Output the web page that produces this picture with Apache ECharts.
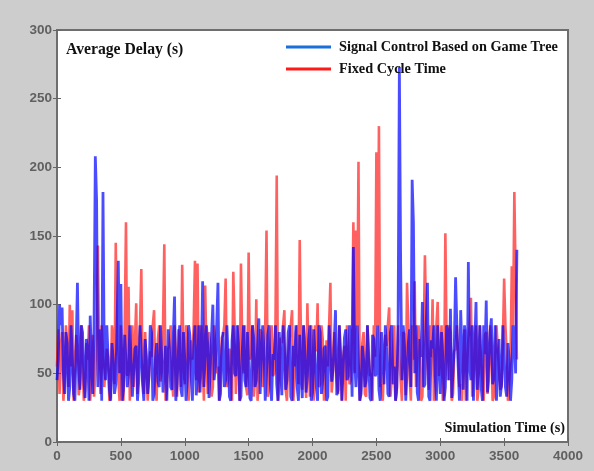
<!DOCTYPE html>
<html>
<head>
<meta charset="utf-8">
<script src="https://cdn.jsdelivr.net/npm/echarts@6/dist/echarts.min.js"></script>
<style>
html,body{margin:0;padding:0;background:#cdcdcd;}
#chart{width:594px;height:471px;}
</style>
</head>
<body>
<div id="chart"></div>
<script>
// Simulation time (s), one sample every 10 s
const timeStep = 10;
const xTicks = [0, 500, 1000, 1500, 2000, 2500, 3000, 3500, 4000];
const yTicks = [0, 50, 100, 150, 200, 250, 300];
const seriesNames = ['Signal Control Based on Game Tree', 'Fixed Cycle Time'];

// Average delay (s) — Signal Control Based on Game Tree
const gameTreeDelay = [
  45,60, 100,85, 98,50, 35,80, 72,30, 40,85, 62,35, 30,70, 116,52, 38,85,
  80,45, 32,75, 65,30, 92,58, 35,85, 208,176, 40,82, 75,30, 182,60, 45,85,
  85,38, 30,72, 60,35, 42,85, 132,50, 115,30, 38,78, 78,40, 50,85, 85,33,
  33,68, 70,30, 45,85, 85,42, 30,75, 62,35, 48,85, 80,30, 35,60, 72,44,
  40,85, 85,36, 55,70, 30,82, 68,40, 38,76, 106,30, 42,65, 85,38, 33,80,
  60,30, 45,85, 78,48, 30,70, 85,34, 50,85, 36,62, 117,40, 40,85, 70,32,
  32,78, 100,45, 55,85, 116,30, 35,68, 80,40, 45,85, 62,33, 30,74, 85,50,
  48,85, 72,30, 33,66, 85,45, 40,80, 58,32, 30,85, 76,40, 45,70, 90,35,
  35,85, 68,30, 50,78, 85,42, 30,64, 60,85, 42,30, 80,55, 34,85, 70,38,
  45,80, 85,33, 30,70, 55,85, 40,30, 78,50, 32,85, 66,36, 48,75, 85,30,
  36,82, 62,40, 30,85, 80,35, 45,68, 70,30, 33,85, 85,44, 52,72, 96,34,
  38,85, 65,30, 30,76, 82,45, 48,85, 72,33, 142,60, 40,85, 85,30, 35,70,
  60,40, 45,85, 85,32, 30,78, 75,48, 50,85, 38,30, 80,62, 42,85, 68,35,
  33,80, 85,42, 55,30, 40,85, 273,130, 45,85, 70,30, 30,72, 82,40, 191,160,
  50,85, 36,30, 75,62, 102,40, 42,85, 116,33, 30,74, 68,85, 48,30, 85,55,
  35,80, 62,30, 40,85, 80,45, 97,32, 33,70, 120,85, 55,30, 96,66, 38,85,
  72,30, 131,55, 45,85, 30,70, 102,38, 58,85, 40,30, 85,64, 103,36, 35,80,
  90,42, 48,85, 30,60, 75,33, 42,85, 85,40, 33,72, 60,30, 45,85, 78,50,
  140
];

// Average delay (s) — Fixed Cycle Time
const fixedCycleDelay = [
  55,82, 35,70, 80,30, 45,85, 65,40, 100,55, 96,30, 30,78, 70,34, 42,85,
  85,30, 38,72, 60,85, 30,50, 78,33, 50,85, 143,60, 35,85, 85,40, 40,68,
  62,30, 33,85, 75,42, 145,70, 45,30, 85,56, 30,85, 160,48, 113,30, 55,85,
  40,72, 101,35, 70,85, 126,45, 35,80, 80,30, 48,66, 62,85, 96,38, 30,75,
  85,44, 52,85, 144,30, 38,68, 70,85, 45,33, 85,60, 33,82, 65,40, 129,55,
  42,85, 80,30, 30,74, 60,85, 132,45, 130,36, 48,85, 85,30, 114,62, 35,80,
  70,33, 40,85, 85,50, 55,30, 30,76, 78,85, 119,40, 45,68, 62,30, 124,85,
  35,58, 85,30, 130,72, 50,85, 40,34, 138,60, 68,85, 33,45, 104,30, 45,82,
  80,40, 60,85, 154,33, 38,70, 85,48, 50,85, 194,30, 42,76, 72,85, 96,38,
  30,64, 65,85, 96,30, 45,80, 85,42, 147,70, 38,85, 70,32, 101,58, 33,85,
  60,30, 85,66, 101,40, 42,85, 75,30, 30,74, 55,85, 116,36, 48,80, 80,45,
  35,85, 85,30, 62,70, 30,85, 70,42, 45,82, 160,50, 154,85, 204,30, 38,72,
  80,35, 33,85, 65,48, 50,30, 85,62, 211,85, 230,40, 42,30, 30,78, 70,85,
  98,33, 45,66, 85,30, 36,85, 62,45, 30,80, 78,34, 116,85, 48,30, 85,60,
  117,40, 40,85, 70,30, 33,74, 136,85, 55,38, 85,62, 104,30, 38,85, 102,48,
  60,85, 30,35, 152,70, 45,85, 80,30, 35,66, 68,85, 85,40, 42,30, 60,82,
  30,56, 75,85, 105,33, 48,70, 85,30, 38,85, 62,45, 30,78, 80,35, 45,85,
  70,30, 33,62, 85,85, 52,38, 40,72, 119,85, 65,30, 30,58, 128,85, 182,120,
  60
];

const toPairs = arr => arr.map((v, i) => [i * timeStep, v]);

const chart = echarts.init(document.getElementById('chart'), null, {renderer: 'canvas'});

const grid = {left: 57, right: 26, top: 30, bottom: 29};
const labelStyle = {color: '#606060', fontFamily: 'Arial, Liberation Sans, sans-serif', fontSize: 13.5, fontWeight: 'bold'};

function xAx(pos, showLabels) {
  return {
    type: 'value', position: pos, min: xTicks[0], max: xTicks[xTicks.length - 1], interval: 500,
    axisLine: {show: false},
    axisTick: {show: true, inside: true, length: 4, lineStyle: {color: '#666', width: 1}},
    axisLabel: Object.assign({show: showLabels, margin: 7, formatter: v => String(v)}, labelStyle),
    splitLine: {show: false}
  };
}
function yAx(pos, showLabels) {
  return {
    type: 'value', position: pos, min: yTicks[0], max: yTicks[yTicks.length - 1], interval: 50,
    axisLine: {show: false},
    axisTick: {show: true, inside: true, length: 4, lineStyle: {color: '#666', width: 1}},
    axisLabel: Object.assign({show: showLabels, margin: 5, formatter: v => String(v)}, labelStyle),
    splitLine: {show: false}
  };
}

chart.setOption({
  backgroundColor: '#cdcdcd',
  animation: false,
  grid: Object.assign({show: true, backgroundColor: '#ffffff', borderColor: '#6e6e6e', borderWidth: 2}, grid),
  xAxis: [xAx('bottom', true), xAx('top', false)],
  yAxis: [yAx('left', true), yAx('right', false)],
  legend: {
    orient: 'vertical', left: 281, top: 35, itemWidth: 45, itemHeight: 3, itemGap: 8,
    icon: 'rect',
    data: [
      {name: seriesNames[0], itemStyle: {color: '#1a6fd8'}},
      {name: seriesNames[1], itemStyle: {color: '#ff1a1a'}}
    ],
    textStyle: {fontFamily: 'Liberation Serif, Times New Roman, serif', fontSize: 14.3, fontWeight: 'bold', color: '#111', padding: [0, 0, 0, 3]}
  },
  graphic: [
    {type: 'text', left: 66, top: 42, style: {text: 'Average Delay (s)', font: 'bold 15.7px "Liberation Serif", serif', fill: '#111'}},
    {type: 'text', right: 29, top: 421, style: {text: 'Simulation Time (s)', font: 'bold 14.3px "Liberation Serif", serif', fill: '#111'}}
  ],
  series: [
    {
      name: seriesNames[1], type: 'line', xAxisIndex: 0, yAxisIndex: 0,
      data: toPairs(fixedCycleDelay), showSymbol: false, symbol: 'none',
      itemStyle: {color: '#ff1a1a'},
      lineStyle: {color: '#ff0000', width: 2.6, opacity: 0.62}
    },
    {
      name: seriesNames[0], type: 'line', xAxisIndex: 0, yAxisIndex: 0,
      data: toPairs(gameTreeDelay), showSymbol: false, symbol: 'none',
      itemStyle: {color: '#1a6fd8'},
      lineStyle: {color: '#0000ff', width: 2.8, opacity: 0.7}
    }
  ]
});
</script>
</body>
</html>
